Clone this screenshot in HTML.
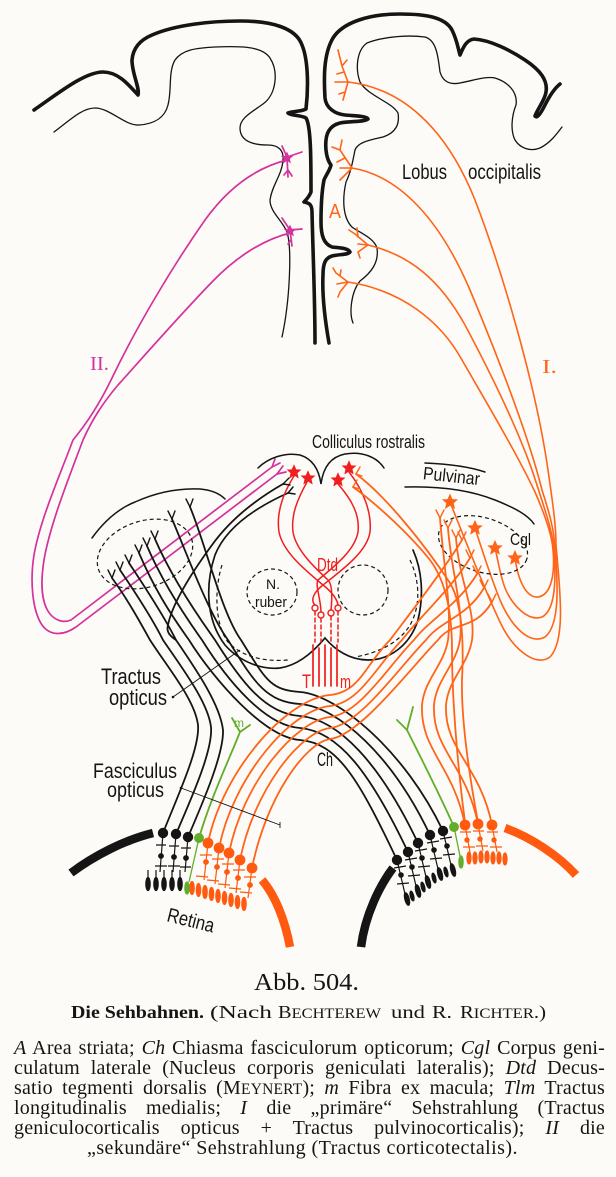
<!DOCTYPE html>
<html>
<head>
<meta charset="utf-8">
<style>
html,body{margin:0;padding:0;background:#fcfbf7;}
#wrap{position:relative;width:616px;height:1177px;overflow:hidden;background:#fcfbf7;}
svg{position:absolute;left:0;top:0;}
#cap{position:absolute;left:14px;top:1038px;width:591px;font-family:"Liberation Serif",serif;font-size:20px;line-height:20px;color:#151515;letter-spacing:0.2px;}
#cap .j{text-align:justify;text-align-last:justify;height:20px;}
#cap .l{text-align:left;padding-left:73px;letter-spacing:0.45px;height:20px;}
.sc{font-size:15.5px;}
</style>
</head>
<body>
<div id="wrap">
<svg width="616" height="1177" viewBox="0 0 616 1177">
<defs>
<path id="st" d="M0,-6.5 L1.9,-2.2 L6.2,-2 L2.9,0.9 L3.9,5.4 L0,2.9 L-3.9,5.4 L-2.9,0.9 L-6.2,-2 L-1.9,-2.2Z"/>
</defs>

<!-- ===== CORTEX ===== -->
<g fill="none" stroke="#151515" stroke-linecap="round" stroke-linejoin="round">
<path stroke-width="3.6" d="M34,110 C60,92 85,72 103,72 C118,72 128,84 138,95 C140,88 132,74 132,60 C133,48 140,40 152,35 C175,25 210,21 240,21 C272,21 296,28 302,45 C309,62 308,92 306,109 C300,112 292,111 288,113 C292,116 301,115 306,118 C311,126 311,160 311,192 C309,197 306,200 304,202 C309,203 312,204 312,212 C313,255 315,300 315,343"/>
<path stroke-width="3.6" d="M329,343 C325,320 322,295 323,275 C323,262 326,258 332,256 C340,254 348,255 350,252 C348,248 340,248 332,247 C324,244 321,236 321,222 C321,205 322,190 324,180 C326,175 330,170 331,165 C327,160 325,150 326,140 C327,130 332,125 340,123 C350,121 365,122 368,119 C367,116 355,116 345,115 C335,114 326,108 325,98 C324,80 323,55 333,38 C343,22 370,14 400,14 C425,14 445,17 452,30 C457,40 458,48 460,55 C463,48 466,40 474,39 C490,40 510,50 525,60 C540,70 548,80 546,92 C545,100 538,108 535,116 C537,119 541,113 545,105 C550,95 555,88 560,84"/>
<path stroke-width="1.3" d="M54,132 C70,120 82,108 95,108 C110,108 125,126 139,125 C155,124 165,117 168,105 C172,90 168,72 175,60 C182,50 195,48 215,47 C240,46 262,46 270,58 C279,72 276,95 263,104 C252,112 240,118 240,128 C240,140 250,145 268,145 C278,145 284,150 283,160 C282,175 272,185 270,200 C270,212 282,220 287,232 C292,248 290,300 282,337"/>
<path stroke-width="1.3" d="M353,323 C349,313 351,292 360,281 C372,272 379,262 377,248 C374,238 360,233 352,227 C343,218 342,200 346,182 C351,172 353,160 355,150 C358,142 370,140 383,137 C395,133 400,125 398,113 C392,102 368,96 360,82 C355,68 357,50 367,43 C385,36 410,35 425,37 C436,40 438,55 440,72 C443,82 450,85 460,83 C475,80 487,76 495,78 C508,82 518,92 516,105 C512,115 510,130 515,140 C520,148 530,152 540,148 C550,143 556,135 562,127"/>
</g>

<!-- ===== ORANGE I radiation ===== -->
<g fill="none" stroke="#ff6418" stroke-width="1.6" stroke-linecap="round" stroke-linejoin="round">
<path d="M348,82 L342,66 L338,50 M342,66 L347,60 M344,72 L337,74 M348,82 L335,82 M348,82 L343,100 M345,92 L339,94"/>
<path d="M352,168 L340,150 L332,147 M340,150 L342,140 M345,158 L337,162 M352,168 L340,168 M352,168 L340,180"/>
<path d="M368,245 L355,234 L349,230 M358,237 L357,228 M368,245 L358,252 L360,258 M368,245 L358,244"/>
<path d="M348,282 L336,273 L333,268 M340,276 L341,270 M348,282 L337,284 M348,282 L340,292 L338,297"/>
<path d="M348,82 C400,88 445,125 475,200 C500,265 535,380 548,470 C553,505 556,525 556,545 C560,590 566,640 550,657 C535,668 512,648 500,622 C485,590 465,540 450,502"/>
<path d="M352,168 C400,176 440,220 470,290 C495,350 527,430 542,490 C550,515 554,530 555,548 C558,585 560,625 545,637 C530,645 512,628 500,600 C490,575 482,550 475,528"/>
<path d="M368,245 C410,255 440,280 465,325 C490,372 520,432 536,482 C545,510 552,530 554,548 C556,578 556,610 542,617 C528,622 512,605 505,588 C500,575 498,560 495,548"/>
<path d="M348,282 C400,290 440,320 462,360 C485,400 516,452 535,492 C545,515 552,535 553,550 C555,572 552,595 538,597 C526,598 518,580 515,558"/>
</g>
<g fill="#ff6418">
<use href="#st" transform="translate(450,502) scale(1.3)"/>
<use href="#st" transform="translate(475,528) scale(1.25)"/>
<use href="#st" transform="translate(495,548) scale(1.25)"/>
<use href="#st" transform="translate(515,558) scale(1.25)"/>
</g>

<!-- ===== MAGENTA II ===== -->
<g fill="none" stroke="#d4329c" stroke-width="1.7" stroke-linecap="round" stroke-linejoin="round">
<path d="M287,160 C255,168 228,188 205,220 C170,270 135,330 112,378 C100,403 88,422 73,440 C60,475 40,520 34,555 C30,580 32,610 42,625 C50,636 63,636 76,627 L277,474"/>
<path d="M290,233 C262,240 235,258 212,282 C180,315 145,355 118,385 C102,404 92,420 83,440 C68,480 50,525 44,560 C40,585 42,604 50,614 C56,621 64,623 71,620 L272,467"/>
<path d="M282,146 L287,157 L302,152 M287,157 L288,177 M288,170 L284,175 M288,170 L292,176"/>
<path d="M282,218 L290,230 L302,229 M290,230 L292,246 M291,240 L288,244"/>
<path d="M277,474 L283,466 M277,474 L286,472 M272,467 L275,459 M272,467 L280,463"/>
</g>
<g fill="#d4329c">
<use href="#st" transform="translate(287,158) scale(1)"/>
<use href="#st" transform="translate(290,231) scale(1)"/>
</g>

<!-- ===== MIDBRAIN / THALAMUS ===== -->
<g fill="none" stroke="#151515" stroke-width="1.5" stroke-linecap="round">
<path d="M258,468 C268,458 285,452 300,455 C313,459 319,470 321,484 C323,468 330,457 345,454 C362,451 377,457 384,468"/>
<path d="M92,538 C105,520 120,508 135,502 C155,493 178,488 200,489 C212,490 220,494 225,499"/>
<path d="M425,463 C450,464 470,467 485,472"/>
<path d="M405,487 C440,486 470,490 495,500 C515,508 528,515 534,524"/>
<path stroke-width="1.7" d="M288,493 C250,510 225,530 215,555 C205,585 206,620 225,645 C240,662 262,670 280,668 C300,665 315,650 325,638 C335,650 350,660 368,660 C390,660 410,645 418,620 C424,595 422,570 413,550"/>
<path stroke-width="1.5" d="M288,493 L293,487 M288,493 L295,494"/>
</g>
<g fill="none" stroke="#151515" stroke-width="1.2" stroke-dasharray="4,3">
<ellipse cx="145" cy="554" rx="49" ry="33" transform="rotate(-18 145 554)"/>
<ellipse cx="483" cy="545" rx="46" ry="27" transform="rotate(18 483 545)"/>
<ellipse cx="272" cy="592" rx="25" ry="23"/>
<ellipse cx="363" cy="590" rx="25" ry="25"/>
<path d="M222,565 C214,590 215,625 228,642 C242,657 265,662 288,660"/>
<path d="M410,560 C422,585 420,615 405,632 C392,647 372,654 355,657"/>
</g>

<!-- ===== RED Dtd ===== -->
<g fill="none" stroke="#f01e1e" stroke-width="1.5" stroke-linecap="round">
<path d="M294,476 C284,492 276,512 279,532 C283,552 305,570 323,585 C332,592 338,600 338,606"/>
<path d="M307,482 C297,500 291,515 293,532 C296,550 314,567 328,580 C333,585 332,600 331,610"/>
<path d="M349,472 C363,490 372,512 370,532 C367,552 342,570 323,585 C314,592 310,600 315,605"/>
<path d="M338,484 C352,500 360,515 358,532 C355,550 335,566 318,580 C315,585 321,600 321,612"/>
<path stroke-dasharray="4,3" d="M315,611 L315,642 M321,618 L321,642 M331,616 L331,642 M338,611 L338,642"/>
<path stroke-width="1.7" d="M313,645 L313,686 M319,648 L319,686 M325,645 L325,686 M331,648 L331,686 M337,645 L337,686"/>
</g>
<g fill="#fcfbf7" stroke="#f01e1e" stroke-width="1.4">
<circle cx="315" cy="608" r="3"/><circle cx="321" cy="615" r="3"/><circle cx="331" cy="613" r="3"/><circle cx="338" cy="608" r="3"/>
</g>
<g fill="#f01e1e">
<use href="#st" transform="translate(294,472) scale(1.2)"/>
<use href="#st" transform="translate(308,478) scale(1.2)"/>
<use href="#st" transform="translate(338,480) scale(1.2)"/>
<use href="#st" transform="translate(349,468) scale(1.2)"/>
</g>

<!-- ===== BLACK TRACT ===== -->
<g fill="none" stroke="#151515" stroke-width="1.8" stroke-linecap="round" stroke-linejoin="round">
<path d="M283,484 C255,500 230,520 212,545 C190,575 172,605 168,625 C166,632 170,636 176,640"/>
<path stroke-width="1.4" d="M283,484 L289,478 M283,484 L290,485"/>
<path d="M112,578 C128,600 140,622 150,640 C168,668 195,700 198,725 C200,748 178,795 163,833"/>
<path d="M120,570 C137,595 153,620 163,640 C182,668 208,702 211,727 C213,750 192,797 176,834"/>
<path d="M129,563 C147,590 165,618 176,640 C195,668 220,704 223,730 C224,753 204,800 188,837"/>
<path d="M139,553 C154,588 169,612 189,640 C214,680 265,738 300,740 C338,743 359,780 397,860"/>
<path d="M147,546 C162,581 182,612 202,640 C227,680 265,726 300,728 C338,731 370,772 408,852"/>
<path d="M155,539 C170,574 195,612 215,640 C240,680 265,714 300,716 C338,719 380,763 418,843"/>
<path d="M172,519 C187,554 208,612 228,640 C253,680 265,702 300,704 C338,707 392,755 430,835"/>
<path d="M190,507 C205,542 221,612 241,640 C266,680 270,690 300,692 C338,695 405,751 443,831"/>
<path stroke-width="1.4" d="M112,578 L108,570 M112,578 L115,570 M120,570 L116,562 M120,570 L123,562 M129,563 L125,555 M129,563 L132,555 M139,553 L135,545 M139,553 L142,545 M147,546 L143,538 M147,546 L150,538 M155,539 L151,531 M155,539 L158,531 M172,519 L168,511 M172,519 L175,511 M190,507 L186,499 M190,507 L193,499"/>
</g>

<!-- ===== ORANGE TRACT ===== -->
<g fill="none" stroke="#ff6418" stroke-width="1.8" stroke-linecap="round" stroke-linejoin="round">
<path d="M208,843 C222,773 285,699 330,695 C360,692 365,665 390,640 C405,620 444,570 462,540"/>
<path d="M219,848 C233,778 290,710 330,706 C360,703 377,665 402,640 C417,620 452,588 470,558"/>
<path d="M229,853 C243,783 295,721 330,717 C360,714 389,665 414,640 C429,620 459,604 477,574"/>
<path d="M240,860 C254,790 300,732 330,728 C360,725 401,665 426,640 C441,620 466,618 484,588"/>
<path d="M252,868 C266,798 305,743 330,739 C360,736 413,665 438,640 C453,620 474,632 492,602"/>
<path d="M465,825 C453,765 420,750 422,705 C424,680 444,665 448,640 C452,610 443,560 440,518"/>
<path d="M478,824 C466,764 432,750 434,705 C436,680 456,665 460,640 C464,610 451,570 448,528"/>
<path d="M492,825 C480,765 444,750 446,705 C448,680 468,665 472,640 C476,610 459,580 456,538"/>
<path d="M356,474 C385,495 425,545 450,583 C462,603 464,640 462,680 C461,720 470,780 478,822"/>
<path d="M353,487 C378,505 410,535 430,560 C445,580 452,610 452,650 C452,700 458,770 465,822"/>
<path stroke-width="1.4" d="M462,540 L458,532 M462,540 L466,532 M470,558 L466,550 M470,558 L474,550 M477,574 L473,566 M477,574 L481,566 M484,588 L480,580 M484,588 L488,580 M492,602 L488,594 M492,602 L496,594 M440,518 L436,510 M440,518 L444,510 M448,528 L444,520 M448,528 L452,520 M456,538 L452,530 M456,538 L460,530 M356,474 L360,467 M356,474 L362,476 M353,487 L357,480 M353,487 L360,489"/>
</g>

<!-- ===== GREEN macula ===== -->
<g fill="none" stroke="#62ad2a" stroke-width="1.8" stroke-linecap="round">
<path d="M199,838 C210,800 228,762 240,732 M240,732 L232,718 M240,732 L250,725"/>
<path d="M454,827 C440,795 422,760 407,730 M407,730 L397,720 M407,730 L413,707"/>
</g>

<!-- ===== RETINA ===== -->
<g fill="none" stroke-linecap="butt">
<path stroke="#151515" stroke-width="8.5" d="M71,873 C95,855 125,840 153,833"/>
<path stroke="#ff5a10" stroke-width="8.5" d="M262,880 C275,895 285,920 290,947"/>
<path stroke="#151515" stroke-width="8.5" d="M393,868 C380,885 365,915 361,947"/>
<path stroke="#ff5a10" stroke-width="8.5" d="M505,828 C530,837 558,855 576,875"/>
</g>
<g fill="#151515" stroke="#151515" stroke-width="1.2">
<circle cx="163" cy="833" r="4.6"/><circle cx="176" cy="834" r="4.6"/><circle cx="188" cy="837" r="4.6"/>
<circle cx="161" cy="856" r="2.3"/><circle cx="174" cy="857" r="2.3"/><circle cx="186" cy="858" r="2.3"/>
<path fill="none" d="M163,833 L160,872 M176,834 L173,872 M188,837 L185,872 M156,845 L166,845 M169,846 L179,846 M181,848 L191,848 M155,866 L167,866 M168,866 L180,866 M180,867 L191,867 M148,870 L148,878 M156,870 L156,878 M164,870 L164,878 M172,870 L172,878 M180,870 L180,878"/>
<ellipse cx="148" cy="884" rx="2.2" ry="6.5"/><ellipse cx="156" cy="884" rx="2.2" ry="6.5"/><ellipse cx="164" cy="884" rx="2.2" ry="6.5"/><ellipse cx="172" cy="884" rx="2.2" ry="6.5"/><ellipse cx="180" cy="884" rx="2.2" ry="6.5"/>
</g>
<g fill="#ff5a10" stroke="#ff5a10" stroke-width="1.2">
<circle cx="208" cy="843" r="4.8"/><circle cx="219" cy="848" r="4.8"/><circle cx="229" cy="853" r="4.8"/><circle cx="240" cy="860" r="4.8"/><circle cx="252" cy="868" r="4.8"/>
<circle cx="206" cy="862" r="2.3"/><circle cx="217" cy="867" r="2.3"/><circle cx="227" cy="872" r="2.3"/><circle cx="238" cy="878" r="2.3"/><circle cx="250" cy="885" r="2.3"/>
<path fill="none" d="M208,843 L204,880 M219,848 L215,884 M229,853 L225,888 M240,860 L236,893 M252,868 L248,898 M200,855 L212,855 M212,859 L224,859 M222,864 L234,864 M233,870 L245,870 M244,877 L256,877 M196,876 L208,877 M207,880 L219,881 M218,884 L230,885 M229,888 L241,889 M240,892 L252,893"/>
<ellipse cx="192" cy="888" rx="2.2" ry="6.5"/><ellipse cx="198.5" cy="890" rx="2.2" ry="6.5"/><ellipse cx="205" cy="892" rx="2.2" ry="6.5"/><ellipse cx="211.5" cy="894" rx="2.2" ry="6.5"/><ellipse cx="218" cy="896" rx="2.2" ry="6.5"/><ellipse cx="224.5" cy="898" rx="2.2" ry="6.5"/><ellipse cx="231" cy="900" rx="2.2" ry="6.5"/><ellipse cx="237.5" cy="902" rx="2.2" ry="6.5"/><ellipse cx="244" cy="904" rx="2.2" ry="6.5"/>
</g>
<g fill="#62ad2a" stroke="#62ad2a" stroke-width="1.3">
<circle cx="199" cy="838" r="4.3"/><path fill="none" d="M199,838 L189,882"/><ellipse cx="187" cy="888" rx="2.1" ry="6"/>
<circle cx="454" cy="827" r="4.3"/><path fill="none" d="M454,827 L460,856"/><ellipse cx="461" cy="862" rx="2.1" ry="6"/>
</g>
<g fill="#151515" stroke="#151515" stroke-width="1.2">
<circle cx="397" cy="860" r="4.6"/><circle cx="408" cy="852" r="4.6"/><circle cx="418" cy="843" r="4.6"/><circle cx="430" cy="835" r="4.6"/><circle cx="443" cy="831" r="4.6"/>
<circle cx="401" cy="875" r="2.2"/><circle cx="412" cy="867" r="2.2"/><circle cx="422" cy="858" r="2.2"/><circle cx="434" cy="850" r="2.2"/><circle cx="447" cy="846" r="2.2"/>
<path fill="none" d="M397,860 L405,894 M408,852 L416,886 M418,843 L426,877 M430,835 L438,869 M443,831 L451,865 M394,868 L406,866 M405,860 L417,858 M415,851 L427,849 M427,843 L439,841 M440,839 L452,837 M397,884 L409,883 M408,876 L420,875 M418,867 L430,866 M430,859 L442,858 M443,855 L455,854"/>
<ellipse cx="407" cy="899" rx="2.2" ry="6.5" transform="rotate(-14 407 899)"/><ellipse cx="418" cy="891" rx="2.2" ry="6.5" transform="rotate(-14 418 891)"/><ellipse cx="428" cy="882" rx="2.2" ry="6.5" transform="rotate(-14 428 882)"/><ellipse cx="440" cy="874" rx="2.2" ry="6.5" transform="rotate(-14 440 874)"/><ellipse cx="453" cy="870" rx="2.2" ry="6.5" transform="rotate(-14 453 870)"/><ellipse cx="412" cy="896" rx="1.7" ry="5" transform="rotate(-14 412 896)"/><ellipse cx="423" cy="887" rx="1.7" ry="5" transform="rotate(-14 423 887)"/><ellipse cx="434" cy="878" rx="1.7" ry="5" transform="rotate(-14 434 878)"/><ellipse cx="446" cy="872" rx="1.7" ry="5" transform="rotate(-14 446 872)"/>
</g>
<g fill="#ff5a10" stroke="#ff5a10" stroke-width="1.2">
<circle cx="465" cy="825" r="4.8"/><circle cx="478" cy="824" r="4.8"/><circle cx="492" cy="825" r="4.8"/>
<circle cx="467" cy="840" r="2.1"/><circle cx="480" cy="839" r="2.1"/><circle cx="494" cy="840" r="2.1"/>
<path fill="none" d="M465,825 L470,852 M478,824 L483,851 M492,825 L497,852 M460,832 L471,832 M473,831 L484,831 M487,832 L498,832 M463,847 L475,847 M476,846 L488,846 M490,847 L502,847"/>
<ellipse cx="469" cy="858" rx="2" ry="6"/><ellipse cx="475" cy="858" rx="2" ry="6"/><ellipse cx="481" cy="857" rx="2" ry="6"/><ellipse cx="487" cy="857" rx="2" ry="6"/><ellipse cx="493" cy="858" rx="2" ry="6"/><ellipse cx="499" cy="858" rx="2" ry="6"/><ellipse cx="505" cy="859" rx="2" ry="6"/>
</g>

<g stroke="#151515" stroke-width="0.9" fill="none">
<path d="M173,697 L240,650"/>
<path d="M181,788 L280,825 M280,822 L280,828"/>
</g>
<circle cx="173" cy="697" r="1.3" fill="#151515"/>
<circle cx="181" cy="788" r="1.3" fill="#151515"/>

<!-- ===== LABELS ===== -->
<g font-family="'Liberation Sans', sans-serif" fill="#151515">
<text x="402" y="179" font-size="21" textLength="45" lengthAdjust="spacingAndGlyphs">Lobus</text>
<text x="468" y="179" font-size="21" textLength="73" lengthAdjust="spacingAndGlyphs">occipitalis</text>
<text x="329" y="218" font-size="20" fill="#ff6418" textLength="12" lengthAdjust="spacingAndGlyphs">A</text>
<text x="312" y="448" font-size="18" textLength="113" lengthAdjust="spacingAndGlyphs">Colliculus rostralis</text>
<text x="423" y="482" font-size="18" textLength="57" lengthAdjust="spacingAndGlyphs" transform="rotate(6 450 476)">Pulvinar</text>
<text x="510" y="545" font-size="17" textLength="21" lengthAdjust="spacingAndGlyphs">Cgl</text>
<text x="317" y="571" font-size="18" fill="#f01e1e" textLength="21" lengthAdjust="spacingAndGlyphs">Dtd</text>
<text x="266" y="589" font-size="14">N.</text>
<text x="255" y="607" font-size="15" textLength="32" lengthAdjust="spacingAndGlyphs">ruber</text>
<text x="302" y="688" font-size="19" fill="#f01e1e" textLength="9" lengthAdjust="spacingAndGlyphs">T</text>
<text x="340" y="688" font-size="18" fill="#f01e1e" textLength="11" lengthAdjust="spacingAndGlyphs">m</text>
<text x="101" y="684" font-size="22" textLength="60" lengthAdjust="spacingAndGlyphs">Tractus</text>
<text x="109" y="705" font-size="22" textLength="58" lengthAdjust="spacingAndGlyphs">opticus</text>
<text x="93" y="778" font-size="21" textLength="84" lengthAdjust="spacingAndGlyphs">Fasciculus</text>
<text x="107" y="797" font-size="21" textLength="57" lengthAdjust="spacingAndGlyphs">opticus</text>
<text x="317" y="766" font-size="19" textLength="16" lengthAdjust="spacingAndGlyphs">Ch</text>
<text x="234" y="727" font-size="12" fill="#62ad2a">m</text>
<text x="166" y="921" font-size="20" textLength="48" lengthAdjust="spacingAndGlyphs" transform="rotate(14 166 921)">Retina</text>
</g>
<g font-family="'Liberation Serif', serif">
<text x="90" y="370" font-size="20" fill="#d4329c" textLength="19" lengthAdjust="spacingAndGlyphs">II.</text>
<text x="542" y="373" font-size="20" fill="#ff6418" textLength="15" lengthAdjust="spacingAndGlyphs">I.</text>
</g>

<g font-family="'Liberation Serif', serif" fill="#151515">
<text x="254" y="990" font-size="24" textLength="105" lengthAdjust="spacingAndGlyphs">Abb. 504.</text>
<text x="71" y="1018" font-size="18" font-weight="bold" textLength="133" lengthAdjust="spacingAndGlyphs">Die Sehbahnen.</text>
<text x="210" y="1018" font-size="18" textLength="62" lengthAdjust="spacingAndGlyphs">(Nach</text>
<text x="278" y="1018" font-size="18" textLength="103" lengthAdjust="spacingAndGlyphs">B<tspan font-size="14.5">ECHTEREW</tspan></text>
<text x="391" y="1018" font-size="18" textLength="34" lengthAdjust="spacingAndGlyphs">und</text>
<text x="432" y="1018" font-size="18" textLength="20" lengthAdjust="spacingAndGlyphs">R.</text>
<text x="460" y="1018" font-size="18" textLength="86" lengthAdjust="spacingAndGlyphs">R<tspan font-size="14.5">ICHTER</tspan>.)</text>
</g>
</svg>

<div id="cap">
<div class="j"><i>A</i> Area striata; <i>Ch</i> Chiasma fasciculorum opticorum; <i>Cgl</i> Corpus geni-</div>
<div class="j">culatum laterale (Nucleus corporis geniculati lateralis); <i>Dtd</i> Decus-</div>
<div class="j">satio tegmenti dorsalis (M<span class="sc">EYNERT</span>); <i>m</i> Fibra ex macula; <i>Tlm</i> Tractus</div>
<div class="j">longitudinalis medialis; <i>I</i> die „primäre“ Sehstrahlung (Tractus</div>
<div class="j">geniculocorticalis opticus + Tractus pulvinocorticalis); <i>II</i> die</div>
<div class="l">„sekundäre“ Sehstrahlung (Tractus corticotectalis).</div>
</div>
</div>
</body>
</html>
